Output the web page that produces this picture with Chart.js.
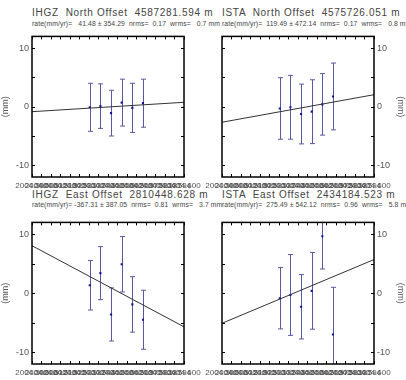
<!DOCTYPE html>
<html>
<head>
<meta charset="utf-8">
<script src="https://cdn.jsdelivr.net/npm/chart.js@4"></script>
<style>
    body { margin: 0; width: 406px; height: 380px; position: relative; overflow: hidden; background: #fff;
           font-family: "Liberation Sans", Arial, sans-serif; }
    .title { position: absolute; white-space: pre; color: #444; font-size: 10px; letter-spacing: 0.7px; }
    .sub { position: absolute; white-space: pre; color: #444; font-size: 6.8px; letter-spacing: 0.1px; }
    canvas { position: absolute; }
</style>
</head>
<body>
<div class="title" style="left:32px;top:7px">IHGZ  North Offset  4587281.594 m</div>
<div class="sub" style="left:32px;top:20px">rate(mm/yr)=   41.48 ± 354.29  nrms=  0.17  wrms=   0.7 mm</div>
<div class="title" style="left:222px;top:7px">ISTA  North Offset  4575726.051 m</div>
<div class="sub" style="left:222px;top:20px">rate(mm/yr)=  119.49 ± 472.14  nrms=  0.17  wrms=   0.8 mm</div>
<div class="title" style="left:32px;top:189px">IHGZ  East Offset  2810448.628 m</div>
<div class="sub" style="left:32px;top:201px">rate(mm/yr)= -367.31 ± 387.05  nrms=  0.81  wrms=   3.7 mm</div>
<div class="title" style="left:222px;top:189px">ISTA  East Offset  2434184.523 m</div>
<div class="sub" style="left:222px;top:201px">rate(mm/yr)=  275.49 ± 542.12  nrms=  0.96  wrms=   5.8 mm</div>

<canvas id="ihgzNorth" width="215" height="165" style="left:0;top:28px"></canvas>
<canvas id="istaNorth" width="216" height="165" style="left:190px;top:28px"></canvas>
<canvas id="ihgzEast" width="215" height="166" style="left:0;top:214px"></canvas>
<canvas id="istaEast" width="216" height="166" style="left:190px;top:214px"></canvas>

<script>
// observation epochs (decimal year), shared by all four panels
const epochs = [2004.538, 2004.545, 2004.552, 2004.559, 2004.566, 2004.573];
const xRange = [2004.5, 2004.6];
const xStep = 0.00625;
const yTicks = [-10, 0, 10];

// offsets (mm) and 1-sigma errors
const ihgzNorth = [-0.1, 0.1, -1.1, 0.7, -0.2, 0.6];
const ihgzNorthErr = [4.1, 3.8, 3.9, 4.0, 4.2, 4.1];
const ihgzNorthFit = [-0.85, 0.75];

const istaNorth = [-0.3, -0.1, -1.25, -0.85, 0.4, 1.75];
const istaNorthErr = [5.25, 5.45, 5.1, 5.45, 5.25, 5.7];
const istaNorthFit = [-2.65, 2.05];

const ihgzEast = [1.35, 3.4, -3.6, 4.9, -1.9, -4.5];
const ihgzEastErr = [4.2, 4.5, 4.5, 4.7, 4.7, 5.0];
const ihgzEastFit = [8.05, -5.7];

const istaEast = [-0.85, -0.3, -2.3, 0.4, 9.65, -7.0];
const istaEastErr = [5.2, 6.85, 5.45, 6.5, 5.55, 8.0];
const istaEastFit = [-5.1, 5.7];

const errorBars = {
    id: 'errorBars',
    beforeDatasetsDraw(chart) {
        const { ctx, chartArea: a, scales: { x, y } } = chart;
        const ds = chart.data.datasets[1];
        ctx.save();
        ctx.beginPath();
        ctx.rect(a.left, a.top, a.width, a.height);
        ctx.clip();
        ctx.strokeStyle = '#5858a4';
        ctx.lineWidth = 1;
        ctx.beginPath();
        ds.data.forEach((p, i) => {
            const px = Math.round(x.getPixelForValue(p.x)) + 0.5;
            const top = y.getPixelForValue(p.y + ds.err[i]);
            const bot = y.getPixelForValue(p.y - ds.err[i]);
            ctx.moveTo(px, top); ctx.lineTo(px, bot);
            ctx.moveTo(px - 2.5, top); ctx.lineTo(px + 2.5, top);
            ctx.moveTo(px - 2.5, bot); ctx.lineTo(px + 2.5, bot);
        });
        ctx.stroke();
        ctx.restore();
    }
};

const frame = {
    id: 'frame',
    afterDatasetsDraw(chart) {
        const { ctx, chartArea: a, scales: { x, y } } = chart;
        ctx.save();
        ctx.strokeStyle = '#000';
        ctx.lineWidth = 1;
        ctx.beginPath();
        x.ticks.forEach(t => {
            const px = Math.round(x.getPixelForValue(t.value)) + 0.5;
            ctx.moveTo(px, a.top); ctx.lineTo(px, a.top + 3);
            ctx.moveTo(px, a.bottom); ctx.lineTo(px, a.bottom - 3);
        });
        y.ticks.forEach(t => {
            const py = Math.round(y.getPixelForValue(t.value)) + 0.5;
            ctx.moveTo(a.left, py); ctx.lineTo(a.left + 3, py);
            ctx.moveTo(a.right, py); ctx.lineTo(a.right - 3, py);
        });
        ctx.stroke();
        ctx.lineWidth = 1.5;
        ctx.strokeRect(a.left, a.top, a.width, a.height);
        ctx.restore();
    }
};

function makePanel(id, values, errs, fit, side) {
    const ctx = document.getElementById(id).getContext('2d');
    const left = side === 'left';
    return new Chart(ctx, {
        type: 'scatter',
        data: {
            datasets: [{
                type: 'line',
                data: xRange.map((x, i) => ({ x, y: fit[i] })),
                borderColor: '#333',
                borderWidth: 1,
                pointRadius: 0
            }, {
                data: epochs.map((x, i) => ({ x, y: values[i] })),
                err: errs,
                pointStyle: 'rect',
                pointRadius: 1.5,
                backgroundColor: '#14149a',
                borderColor: '#14149a',
                borderWidth: 0
            }]
        },
        options: {
            responsive: false,
            animation: false,
            layout: { padding: { top: 7, left: left ? 0 : 32, right: left ? 31 : 0, bottom: 0 } },
            plugins: { legend: { display: false }, tooltip: { enabled: false } },
            scales: {
                x: {
                    type: 'linear',
                    min: xRange[0],
                    max: xRange[1],
                    grid: { display: false, drawTicks: false },
                    border: { display: false },
                    afterFit: s => { s.height = 16; },
                    afterBuildTicks: s => {
                        const ticks = [];
                        for (let v = xRange[0]; v <= xRange[1] + 1e-9; v += xStep) ticks.push({ value: v });
                        s.ticks = ticks;
                    },
                    ticks: {
                        autoSkip: false,
                        maxRotation: 0,
                        minRotation: 0,
                        padding: 4,
                        color: '#555',
                        font: { size: 8, family: 'Liberation Sans' },
                        callback: v => v.toFixed(3)
                    }
                },
                y: {
                    position: side,
                    min: -12,
                    max: 12,
                    grid: { display: false, drawTicks: false },
                    border: { display: false },
                    afterFit: s => { s.width = 32; },
                    afterBuildTicks: s => {
                        s.ticks = [-10, -5, 0, 5, 10].map(value => ({ value }));
                    },
                    ticks: {
                        padding: 3,
                        color: '#555',
                        font: { size: 9, family: 'Liberation Sans' },
                        callback: v => yTicks.includes(v) ? String(v) : ''
                    },
                    title: {
                        display: true,
                        text: '(mm)',
                        color: '#555',
                        padding: 0,
                        font: { size: 9, family: 'Liberation Sans' }
                    }
                }
            }
        },
        plugins: [errorBars, frame]
    });
}

makePanel('ihgzNorth', ihgzNorth, ihgzNorthErr, ihgzNorthFit, 'left');
makePanel('istaNorth', istaNorth, istaNorthErr, istaNorthFit, 'right');
makePanel('ihgzEast', ihgzEast, ihgzEastErr, ihgzEastFit, 'left');
makePanel('istaEast', istaEast, istaEastErr, istaEastFit, 'right');
</script>
</body>
</html>
